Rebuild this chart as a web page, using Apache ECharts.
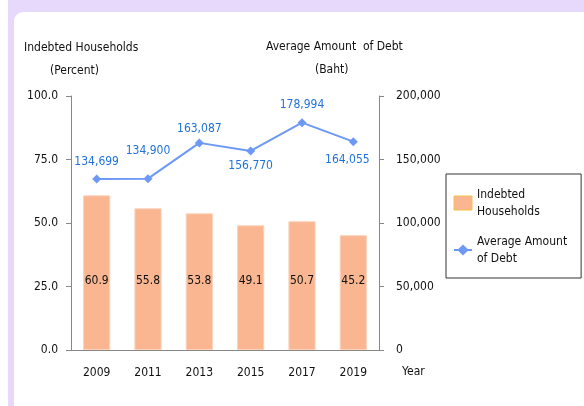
<!DOCTYPE html>
<html>
<head>
<meta charset="utf-8">
<script src="https://cdn.jsdelivr.net/npm/echarts@6/dist/echarts.min.js"></script>
<style>
  html, body { margin: 0; padding: 0; background: #fff; }
  #chart { width: 584px; height: 406px; }
</style>
</head>
<body>
<div id="chart"></div>
<script>
// Survey years
const years = ['2009', '2011', '2013', '2015', '2017', '2019'];
// Share of households in debt (percent)
const indebtedPct = [60.9, 55.8, 53.8, 49.1, 50.7, 45.2];
// Average debt per indebted household (baht)
const avgDebt = [134699, 134900, 163087, 156770, 178994, 164055];
// Where each debt label sits relative to its point
const debtLabelPos = ['top', 'top', 'top', 'bottom', 'top', 'bottom'];
const debtLabelGap = [7, 17, 4, 4, 7, 8];
const debtLabelShift = [0, 0, 0, 0, 0, -6];

const FONT = "Tahoma, 'DejaVu Sans Condensed', 'DejaVu Sans', sans-serif";
const withCommas = v => String(Math.round(v)).replace(/\B(?=(\d{3})+(?!\d))/g, ',');

const chart = echarts.init(document.getElementById('chart'), null, { renderer: 'canvas' });

chart.setOption({
  backgroundColor: '#ffffff',
  animation: false,
  textStyle: { fontFamily: FONT, fontSize: 12, color: '#111' },
  graphic: [
    { type: 'rect', silent: true, z: -10,
      shape: { x: 8, y: -20, width: 600, height: 440 },
      style: { fill: '#E7D9FB' } },
    { type: 'rect', silent: true, z: -9,
      shape: { x: 14, y: 12, width: 600, height: 420, r: [9, 0, 0, 0] },
      style: { fill: '#ffffff' } },
    { type: 'text', left: 24, top: 42,
      style: { text: 'Indebted Households', font: '12px ' + FONT, fill: '#111' } },
    { type: 'text', left: 50, top: 65,
      style: { text: '(Percent)', font: '12px ' + FONT, fill: '#111' } },
    { type: 'text', left: 266, top: 41,
      style: { text: 'Average Amount  of Debt', font: '12px ' + FONT, fill: '#111' } },
    { type: 'text', left: 315, top: 64,
      style: { text: '(Baht)', font: '12px ' + FONT, fill: '#111' } },
    { type: 'text', left: 402, top: 366,
      style: { text: 'Year', font: '12px ' + FONT, fill: '#111' } }
  ],
  legend: {
    orient: 'vertical',
    left: 446, top: 174,
    width: 120,
    padding: [12, 14, 11, 7],
    itemGap: 13,
    itemWidth: 18, itemHeight: 14,
    borderColor: '#333', borderWidth: 1,
    textStyle: { fontFamily: FONT, fontSize: 12, color: '#111', lineHeight: 17 },
    formatter: name => name === 'Indebted Households' ? 'Indebted\nHouseholds' : 'Average Amount\nof Debt',
    data: [
      { name: 'Indebted Households', icon: 'rect',
        itemStyle: { color: '#F9B690', borderColor: '#F2C24A', borderWidth: 1 } },
      { name: 'Average Amount of Debt' }
    ]
  },
  grid: { left: 71, right: 205, top: 96, bottom: 56 },
  xAxis: {
    type: 'category',
    data: years,
    axisLine: { lineStyle: { color: '#888' } },
    axisTick: { show: false },
    axisLabel: { margin: 17, color: '#111', fontFamily: FONT, fontSize: 12 }
  },
  yAxis: [
    {
      type: 'value', min: 0, max: 100, interval: 25,
      axisLine: { show: true, lineStyle: { color: '#888' } },
      axisTick: { show: true, length: 5, lineStyle: { color: '#888' } },
      splitLine: { show: false },
      axisLabel: { margin: 13, color: '#111', fontFamily: FONT, fontSize: 12,
                   formatter: v => v.toFixed(1) }
    },
    {
      type: 'value', min: 0, max: 200000, interval: 50000,
      position: 'right',
      axisLine: { show: true, lineStyle: { color: '#888' } },
      axisTick: { show: true, length: 5, lineStyle: { color: '#888' } },
      splitLine: { show: false },
      axisLabel: { margin: 17, color: '#111', fontFamily: FONT, fontSize: 12,
                   formatter: v => withCommas(v) }
    }
  ],
  series: [
    {
      name: 'Indebted Households',
      type: 'bar',
      yAxisIndex: 0,
      barWidth: '53%',
      data: indebtedPct,
      itemStyle: { color: '#F9B690', borderColor: '#FBD3BC', borderWidth: 1 },
      label: {
        show: true, position: 'insideBottom', distance: 63,
        color: '#111', fontFamily: FONT, fontSize: 12,
        formatter: p => p.value.toFixed(1)
      }
    },
    {
      name: 'Average Amount of Debt',
      type: 'line',
      yAxisIndex: 1,
      symbol: 'diamond',
      symbolSize: 9,
      lineStyle: { color: '#6D98F4', width: 2 },
      itemStyle: { color: '#6D98F4' },
      data: avgDebt.map((v, i) => ({
        value: v,
        label: {
          position: debtLabelPos[i],
          distance: debtLabelGap[i],
          offset: [debtLabelShift[i], 0]
        }
      })),
      label: {
        show: true, color: '#1F72DA', fontFamily: FONT, fontSize: 12,
        formatter: p => withCommas(p.value)
      }
    }
  ]
});
</script>
</body>
</html>
